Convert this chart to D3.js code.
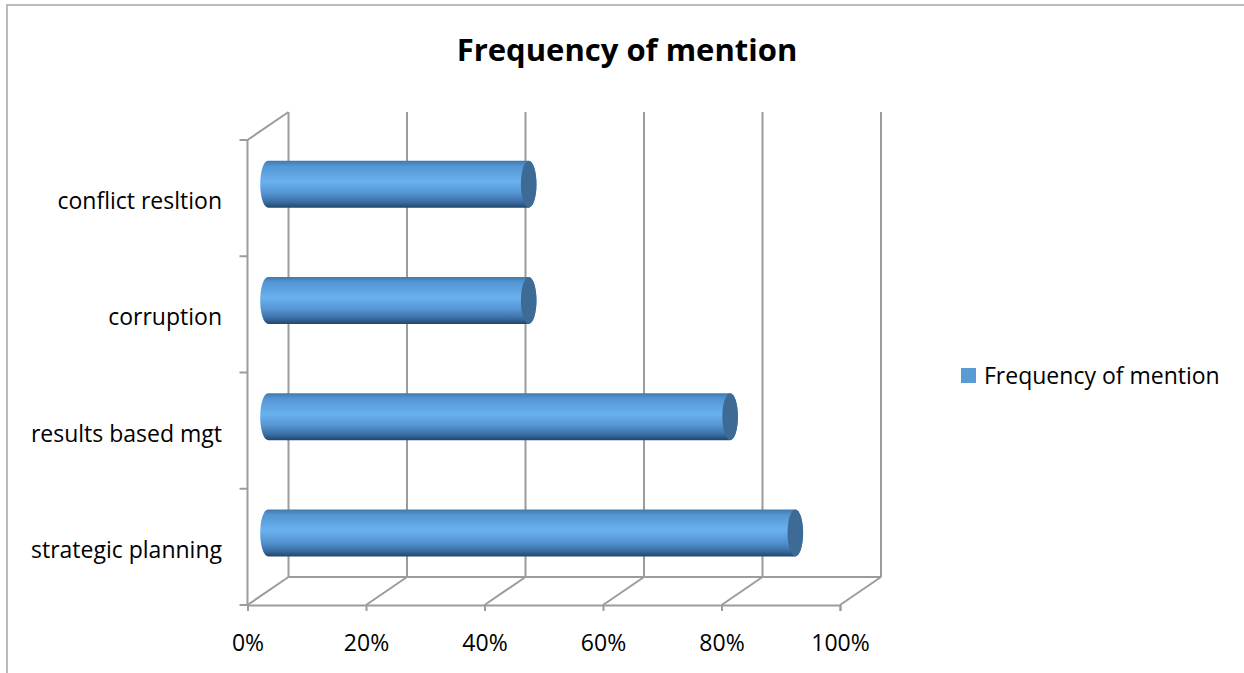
<!DOCTYPE html>
<html>
<head>
<meta charset="utf-8">
<script src="https://cdn.jsdelivr.net/npm/d3@7"></script>
<style>
  html, body { margin: 0; padding: 0; background: #fff; }
  svg { display: block; font-family: "Open Sans", Lato, sans-serif; }
</style>
</head>
<body>
<svg id="chart" width="1244" height="673"></svg>
<script>
// ---- data ----
const categories = ["conflict resltion", "corruption", "results based mgt", "strategic planning"];
const values = [0.44, 0.44, 0.78, 0.89];
const tickValues = [0, 0.2, 0.4, 0.6, 0.8, 1.0];
const seriesName = "Frequency of mention";
const title = "Frequency of mention";

// ---- layout ----
const W = 1244, H = 673;
const frontLeft = 247.5, frontRight = 840;
const frontTop = 140, frontBottom = 605;
const depthX = 41, depthY = -28;
const barDepth = 0.5;
const barH = 47;
const FONT = "'Open Sans', Lato, sans-serif";

const svg = d3.select("#chart");

// border
svg.append("rect").attr("x", 7).attr("y", 5).attr("width", W + 10).attr("height", H + 10)
  .attr("fill", "none").attr("stroke", "#a6a6a6").attr("stroke-width", 1.5);

const x = d3.scaleLinear().domain([0, 1]).range([frontLeft, frontRight]);
const y = d3.scaleBand().domain(categories).range([frontTop, frontBottom]).padding(0);

const grid = "#9c9c9c";
const g = svg.append("g");

// back wall gridlines
g.selectAll("line.grid").data(tickValues).join("line")
  .attr("class", "grid")
  .attr("x1", d => x(d) + depthX).attr("x2", d => x(d) + depthX)
  .attr("y1", frontTop + depthY).attr("y2", frontBottom + depthY)
  .attr("stroke", grid).attr("stroke-width", 2);

// floor diagonals
g.selectAll("line.floor").data(tickValues).join("line")
  .attr("class", "floor")
  .attr("x1", d => x(d)).attr("y1", frontBottom)
  .attr("x2", d => x(d) + depthX).attr("y2", frontBottom + depthY)
  .attr("stroke", grid).attr("stroke-width", 2);

// floor back line
g.append("line")
  .attr("x1", x(0) + depthX).attr("x2", x(1) + depthX)
  .attr("y1", frontBottom + depthY).attr("y2", frontBottom + depthY)
  .attr("stroke", grid).attr("stroke-width", 2);

// left wall top diagonal
g.append("line")
  .attr("x1", x(0)).attr("y1", frontTop)
  .attr("x2", x(0) + depthX).attr("y2", frontTop + depthY)
  .attr("stroke", grid).attr("stroke-width", 2);

// left wall front edge
g.append("line")
  .attr("x1", x(0)).attr("x2", x(0))
  .attr("y1", frontTop).attr("y2", frontBottom)
  .attr("stroke", grid).attr("stroke-width", 2);

// left category ticks (band boundaries)
const bounds = categories.map(c => y(c)).concat([frontBottom]);
g.selectAll("line.ctick").data(bounds).join("line")
  .attr("class", "ctick")
  .attr("x1", x(0) - 8).attr("x2", x(0))
  .attr("y1", d => d).attr("y2", d => d)
  .attr("stroke", grid).attr("stroke-width", 2);

// bottom axis
const xAxis = d3.axisBottom(x).tickValues(tickValues).tickFormat(d3.format(".0%")).tickSize(6).tickPadding(24);
const ax = svg.append("g").attr("transform", `translate(0,${frontBottom})`).call(xAxis)
  .attr("font-family", FONT).attr("font-size", 23);
ax.select(".domain").attr("stroke", grid).attr("stroke-width", 2);
ax.selectAll(".tick line").attr("stroke", grid).attr("stroke-width", 2);
ax.selectAll(".tick text").attr("fill", "#000");

// gradients
const defs = svg.append("defs");
const grad = defs.append("linearGradient").attr("id", "cyl").attr("x1", 0).attr("x2", 0).attr("y1", 0).attr("y2", 1);
[[0, "#3f78b0"], [0.12, "#5596d4"], [0.45, "#6ab1f0"], [0.7, "#5393d0"], [0.88, "#3a6ea4"], [1, "#23466c"]]
  .forEach(([o, c]) => grad.append("stop").attr("offset", o).attr("stop-color", c));

// bars
const bars = svg.append("g");
const rx = 7.8, ry = barH / 2;
categories.forEach((c, i) => {
  const cy = y(c) + y.bandwidth() / 2 + depthY * barDepth;
  const x0 = x(0) + depthX * barDepth;
  const x1 = x(values[i]) + depthX * barDepth;
  const top = cy - ry, bot = cy + ry;
  bars.append("path")
    .attr("d", `M${x0},${top} L${x1},${top} A${rx},${ry} 0 0 1 ${x1},${bot} L${x0},${bot} A${rx},${ry} 0 0 1 ${x0},${top} Z`)
    .attr("fill", "url(#cyl)");
  bars.append("ellipse")
    .attr("cx", x1).attr("cy", cy).attr("rx", rx).attr("ry", ry)
    .attr("fill", "#3d6b95");
});

// category labels
svg.append("g").selectAll("text").data(categories).join("text")
  .attr("x", 222)
  .attr("y", d => y(d) + y.bandwidth() / 2 + 11)
  .attr("text-anchor", "end")
  .attr("font-size", 23)
  .attr("fill", "#000")
  .text(d => d);

// title
svg.append("text").attr("x", 627).attr("y", 61)
  .attr("text-anchor", "middle")
  .attr("font-size", 31).attr("font-weight", "bold").attr("fill", "#000")
  .text(title);

// legend
const lg = svg.append("g").attr("transform", "translate(961,368)");
lg.append("rect").attr("width", 15).attr("height", 15).attr("fill", "#5b9bd5");
lg.append("text").attr("x", 23).attr("y", 16)
  .attr("font-size", 23).attr("fill", "#000").text(seriesName);
</script>
</body>
</html>
